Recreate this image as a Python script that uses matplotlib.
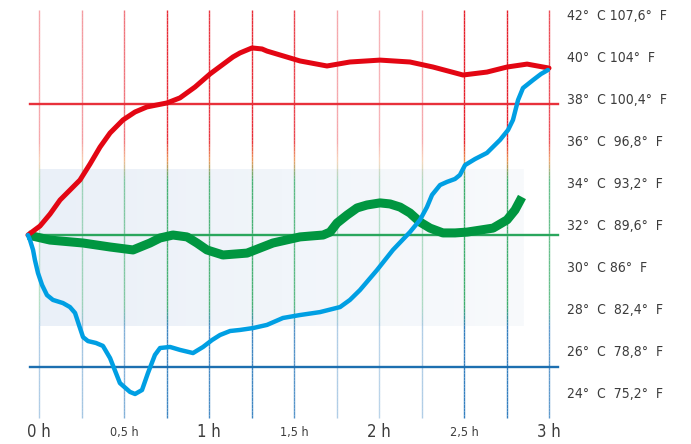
import matplotlib
matplotlib.use("agg")
import matplotlib.pyplot as plt
import numpy as np
from matplotlib.collections import LineCollection
from matplotlib.colors import LinearSegmentedColormap

plt.rcParams['font.family'] = ['DejaVu Sans']
plt.rcParams['font.stretch'] = 'condensed'

# curves (hours, degrees C)
red_h = [-0.065, 0.006, 0.065, 0.124, 0.182, 0.241, 0.300, 0.359, 0.418, 0.494, 0.565, 0.635,
         0.753, 0.829, 0.918, 1.006, 1.141, 1.182, 1.253, 1.312, 1.341, 1.535, 1.694, 1.829,
         2.006, 2.182, 2.318, 2.494, 2.635, 2.753, 2.871, 3.0]
red_c = [31.57, 32.0, 32.57, 33.24, 33.71, 34.19, 34.95, 35.76, 36.43, 37.05, 37.43, 37.67,
         37.86, 38.10, 38.62, 39.24, 40.05, 40.24, 40.48, 40.43, 40.33, 39.86, 39.62, 39.81,
         39.90, 39.81, 39.57, 39.19, 39.33, 39.57, 39.71, 39.52]

blue_h = [-0.065, -0.053, -0.035, -0.024, -0.006, 0.018, 0.047, 0.082, 0.141, 0.182, 0.212,
          0.235, 0.259, 0.288, 0.335, 0.376, 0.418, 0.476, 0.535, 0.565, 0.606, 0.641, 0.682,
          0.712, 0.771, 0.829, 0.906, 0.965, 1.018, 1.065, 1.124, 1.182, 1.259, 1.341, 1.435,
          1.535, 1.653, 1.771, 1.829, 1.888, 1.988, 2.082, 2.182, 2.241, 2.282, 2.312, 2.359,
          2.400, 2.447, 2.476, 2.506, 2.565, 2.635, 2.712, 2.759, 2.788, 2.806, 2.818, 2.847,
          2.906, 2.953, 2.994]
blue_c = [31.57, 31.33, 30.86, 30.38, 29.76, 29.19, 28.71, 28.48, 28.33, 28.14, 27.86,
          27.29, 26.71, 26.52, 26.43, 26.29, 25.71, 24.52, 24.10, 24.0, 24.19, 25.0, 25.86,
          26.19, 26.24, 26.10, 25.95, 26.24, 26.57, 26.81, 27.0, 27.05, 27.14, 27.29, 27.62,
          27.76, 27.90, 28.14, 28.48, 28.95, 29.90, 30.86, 31.71, 32.29, 32.90, 33.48, 33.95,
          34.10, 34.24, 34.43, 34.90, 35.19, 35.48, 36.10, 36.57, 37.05, 37.62, 38.0, 38.57,
          38.95, 39.24, 39.43]

green_h = [-0.065, 0.065, 0.259, 0.418, 0.553, 0.653, 0.712, 0.788, 0.871, 0.929, 0.988, 1.082,
           1.224, 1.376, 1.535, 1.594, 1.671, 1.712, 1.753, 1.812, 1.871, 1.929, 2.006, 2.065,
           2.124, 2.182, 2.241, 2.300, 2.376, 2.447, 2.518, 2.671, 2.753, 2.800, 2.841]
green_c = [31.57, 31.33, 31.19, 31.0, 30.86, 31.19, 31.43, 31.57, 31.48, 31.19, 30.86, 30.62,
           30.71, 31.19, 31.48, 31.52, 31.57, 31.71, 32.14, 32.52, 32.86, 33.0, 33.10, 33.05,
           32.90, 32.62, 32.19, 31.90, 31.67, 31.67, 31.71, 31.90, 32.29, 32.76, 33.38]

# reference lines
ref_c = [37.81, 31.57, 25.29]
ref_colors = ['#e8313b', '#2aa65d', '#1d6fb0']

celsius = [42, 40, 38, 36, 34, 32, 30, 28, 26, 24]
temp_labels = ['42°  C 107,6°  F', '40°  C 104°  F', '38°  C 100,4°  F', '36°  C  96,8°  F',
               '34°  C  93,2°  F', '32°  C  89,6°  F', '30°  C 86°  F', '28°  C  82,4°  F',
               '26°  C  78,8°  F', '24°  C  75,2°  F']

grid_h = [0, 0.25, 0.5, 0.75, 1, 1.25, 1.5, 1.75, 2, 2.25, 2.5, 2.75, 3]
grid_alpha = [0.35, 0.4, 0.55, 0.85, 0.8, 0.85, 0.75, 0.35, 0.3, 0.35, 0.9, 0.9, 0.7]

hour_ticks = [0, 0.5, 1, 1.5, 2, 2.5, 3]
hour_labels = ['0 h', '0,5 h', '1 h', '1,5 h', '2 h', '2,5 h', '3 h']

fig = plt.figure(figsize=(6.91, 4.44), dpi=100)
ax = fig.add_axes([0, 0, 1, 1])
ax.set_xlim(-39 / 170, 652 / 170)
ax.set_ylim(38 - 344 / 21, 38 + 100 / 21)
ax.axis('off')

# shaded band
grad = np.linspace(0, 1, 256).reshape(1, -1)
band = LinearSegmentedColormap.from_list('band', ['#eaf0f8', '#f8fafc'])
ax.imshow(grad, cmap=band, aspect='auto', extent=[0.006, 2.85, 27.24, 34.67], zorder=0)

# vertical grid with red / green / blue gradient
vcmap = LinearSegmentedColormap.from_list('v', [
    (0.0, '#1d71b8'), (0.22, '#1d71b8'), (0.27, '#2aa65d'), (0.58, '#2aa65d'),
    (0.63, '#e8833a'), (0.68, '#e30613'), (1.0, '#e30613')])
y0, y1 = 38 - 318 / 21, 38 + 90 / 21
ys = np.linspace(y0, y1, 120)
for h, a in zip(grid_h, grid_alpha):
    segs = [[(h, ys[i]), (h, ys[i + 1])] for i in range(len(ys) - 1)]
    cols = [vcmap((ys[i] - y0) / (y1 - y0)) for i in range(len(ys) - 1)]
    lc = LineCollection(segs, colors=cols, linewidths=1.0, alpha=a, zorder=1)
    ax.add_collection(lc)

for c, col in zip(ref_c, ref_colors):
    ax.plot([-0.053, 3.053], [c, c], color=col, lw=1.7, zorder=2)

ax.plot(green_h, green_c, color='#009640', lw=6.5, solid_joinstyle='round',
        solid_capstyle='butt', zorder=3)
ax.plot(red_h, red_c, color='#e30613', lw=3.6, solid_joinstyle='round',
        solid_capstyle='round', zorder=3.5)
ax.plot(blue_h, blue_c, color='#009fe3', lw=3.2, solid_joinstyle='round',
        solid_capstyle='round', zorder=4)

for c, t in zip(celsius, temp_labels):
    ax.text(3.106, c, t, ha='left', va='center', fontsize=10, color='#3c3c3c')

for h, t in zip(hour_ticks, hour_labels):
    big = float(h).is_integer()
    ax.text(h, 38 - 332 / 21, t, ha='center', va='center',
            fontsize=12 if big else 9, color='#3c3c3c')

plt.savefig("out.png", dpi=100)
